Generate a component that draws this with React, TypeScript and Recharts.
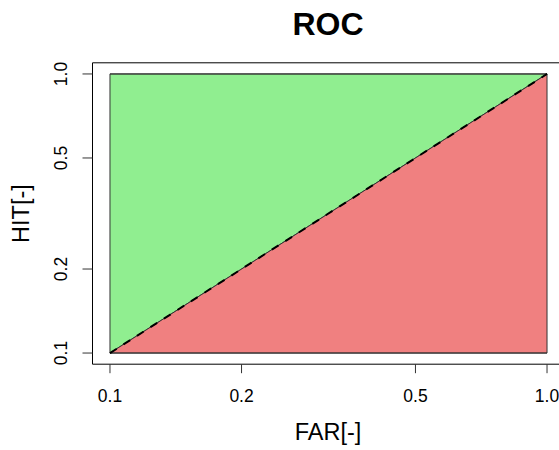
import React from 'react'
import { ComposedChart, Area, Line, XAxis, YAxis, ReferenceArea } from 'recharts'

// ROC plot: FAR vs HIT on log-log axes
const farValues = [0.1, 1.0]
const hitDiagonal = [0.1, 1.0]
const hitTop = [1.0, 1.0]
const hitBottom = [0.1, 0.1]
const tickValues = [0.1, 0.2, 0.5, 1.0]

// R pads the plot region by 4% of the (log) range on each side
const padLog = (lo: number, hi: number): [number, number] => {
  const a = Math.log10(lo)
  const b = Math.log10(hi)
  const d = (b - a) * 0.04
  return [Math.pow(10, a - d), Math.pow(10, b + d)]
}
const xDomain = padLog(0.1, 1.0)
const yDomain = padLog(0.1, 1.0)

const data = farValues.map((far, i) => ({
  far,
  good: [hitDiagonal[i], hitTop[i]],
  bad: [hitBottom[i], hitDiagonal[i]],
  diag: hitDiagonal[i],
}))

const FONT = '"Liberation Sans", Arial, sans-serif'

const XTick = (props: any) => {
  const { x, y, payload } = props
  return (
    <text x={x} y={y + 28.5} textAnchor="middle" fontSize={17.5} fill="#000" fontFamily={FONT}>
      {Number(payload.value).toFixed(1)}
    </text>
  )
}

const YTick = (props: any) => {
  const { x, y, payload } = props
  const tx = x - 15.5
  return (
    <text x={tx} y={y} transform={`rotate(-90 ${tx} ${y})`} textAnchor="middle" fontSize={17.5} fill="#000" fontFamily={FONT}>
      {Number(payload.value).toFixed(1)}
    </text>
  )
}

export default function App() {
  return (
    <div style={{ position: 'fixed', left: 0, top: 0, width: 559, height: 450, overflow: 'hidden', background: '#fff' }}>
      <ComposedChart
        width={580}
        height={450}
        data={data}
        margin={{ top: 62.8, right: 15.5, bottom: 0, left: 0 }}
      >
        <XAxis
          dataKey="far"
          type="number"
          scale="log"
          domain={xDomain}
          allowDataOverflow
          ticks={tickValues}
          tickSize={9}
          tickMargin={0}
          axisLine={false}
          tickLine={{ stroke: '#333' }}
          tick={<XTick />}
          height={85.8}
        />
        <YAxis
          type="number"
          scale="log"
          domain={yDomain}
          allowDataOverflow
          ticks={tickValues}
          tickSize={10}
          tickMargin={0}
          axisLine={false}
          tickLine={{ stroke: '#333' }}
          tick={<YTick />}
          width={92.5}
        />
        <Area
          type="linear"
          dataKey="good"
          fill="#90EE90"
          fillOpacity={1}
          stroke="#333"
          strokeWidth={1}
          isAnimationActive={false}
        />
        <Area
          type="linear"
          dataKey="bad"
          fill="#F08080"
          fillOpacity={1}
          stroke="#333"
          strokeWidth={1}
          isAnimationActive={false}
        />
        <ReferenceArea x1={0.1} x2={1.0} y1={0.1} y2={1.0} fill="none" stroke="#333" strokeWidth={1} ifOverflow="visible" />
        <Line
          type="linear"
          dataKey="diag"
          stroke="#000"
          strokeWidth={2}
          strokeDasharray="8 8"
          dot={false}
          isAnimationActive={false}
        />
        <ReferenceArea x1={xDomain[0]} x2={xDomain[1]} y1={yDomain[0]} y2={yDomain[1]} fill="none" stroke="#000" strokeWidth={1} ifOverflow="visible" />
      </ComposedChart>
      <svg width={559} height={450} style={{ position: 'absolute', left: 0, top: 0, pointerEvents: 'none' }}>
        <text x={328} y={35} textAnchor="middle" fontSize={32} fontWeight="bold" fontFamily={FONT} fill="#000">
          ROC
        </text>
        <text x={328} y={440} textAnchor="middle" fontSize={23.5} fontFamily={FONT} fill="#000">
          FAR[-]
        </text>
        <text x={29} y={213.5} transform="rotate(-90 29 213.5)" textAnchor="middle" fontSize={23.5} fontFamily={FONT} fill="#000">
          HIT[-]
        </text>
      </svg>
    </div>
  )
}
